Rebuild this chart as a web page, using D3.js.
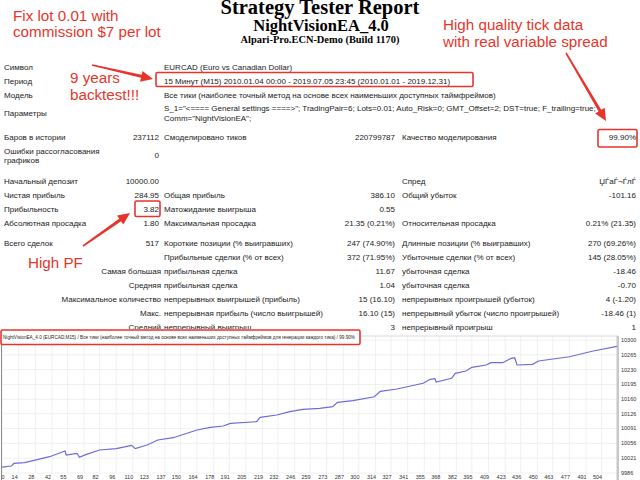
<!DOCTYPE html>
<html>
<head>
<meta charset="utf-8">
<script src="https://cdn.jsdelivr.net/npm/d3@7"></script>
<style>
body { margin: 0; background: #fff; }
svg { display: block; }
</style>
</head>
<body>
<div id="canvas"></div>
<script>
// report header
const reportTitle = "Strategy Tester Report",
    expertName = "NightVisionEA_4.0",
    serverName = "Alpari-Pro.ECN-Demo (Build 1170)";

// general info block
const infoLabels = ["Символ", "Период", "Модель", "Параметры"];
const infoValues = [
    ["EURCAD (Euro vs Canadian Dollar)"],
    ["15 Минут (M15) 2010.01.04 00:00 - 2019.07.05 23:45 (2010.01.01 - 2019.12.31)"],
    ["Все тики (наиболее точный метод на основе всех наименьших доступных таймфреймов)"],
    ["S_1=\"<==== General settings ====>\"; TradingPair=6; Lots=0.01; Auto_Risk=0; GMT_Offset=2; DST=true; F_trailing=true;",
     "Comm=\"NightVisionEA\";"]
];

// results block: label, value, label, value, label, value
const statRows = [
    [["Баров в истории"], "237112", "Смоделировано тиков", "220799787", "Качество моделирования", "99.90%"],
    [["Ошибки рассогласования", "графиков"], "0", "", "", "", ""],
    [["Начальный депозит"], "10000.00", "", "", "Спред", "ЏЃаЃ¬ЃлЃ"],
    [["Чистая прибыль"], "284.95", "Общая прибыль", "386.10", "Общий убыток", "-101.16"],
    [["Прибыльность"], "3.82", "Матожидание выигрыша", "0.55", "", ""],
    [["Абсолютная просадка"], "1.80", "Максимальная просадка", "21.35 (0.21%)", "Относительная просадка", "0.21% (21.35)"],
    [["Всего сделок"], "517", "Короткие позиции (% выигравших)", "247 (74.90%)", "Длинные позиции (% выигравших)", "270 (69.26%)"],
    [[""], "", "Прибыльные сделки (% от всех)", "372 (71.95%)", "Убыточные сделки (% от всех)", "145 (28.05%)"]
];
const tradeRows = [
    ["Самая большая", "прибыльная сделка", "11.67", "убыточная сделка", "-18.46"],
    ["Средняя", "прибыльная сделка", "1.04", "убыточная сделка", "-0.70"],
    ["Максимальное количество", "непрерывных выигрышей (прибыль)", "15 (16.10)", "непрерывных проигрышей (убыток)", "4 (-1.20)"],
    ["Макс.", "непрерывная прибыль (число выигрышей)", "16.10 (15)", "непрерывный убыток (число проигрышей)", "-18.46 (1)"],
    ["Средний", "непрерывный выигрыш", "3", "непрерывный проигрыш", "1"]
];

// balance chart
const chartHeader = "NightVisionEA_4.0 (EURCAD,M15) / Все тики (наиболее точный метод на основе всех наименьших доступных таймфреймов для генерации каждого тика) / 99.90%";
const tradeNo = [0, 8, 10, 19, 34, 40, 53, 54, 63, 65, 71, 82, 96, 109, 112, 122, 131, 144, 151, 164, 175, 186, 192, 214, 217, 231, 242, 253, 267,
    278, 282, 295, 313, 318, 332, 354, 360, 364, 365, 378, 381, 390, 395, 407, 411, 421, 428, 431, 433, 446, 451, 477, 497, 517];
const balance = [10000, 10002.5, 10008.9, 10010.3, 10020.7, 10024.5, 10037.9, 10028.5, 10032.5, 10023.1, 10030.1, 10040.3, 10043.4, 10051.4,
    10043.4, 10052.1, 10063.9, 10069.3, 10075.7, 10087.5, 10093.9, 10097, 10103.3, 10107.1, 10117.5, 10122.9, 10130.7, 10136.4, 10138.7,
    10142.5, 10152.9, 10156.7, 10166.1, 10178.9, 10184.3, 10197.8, 10207.2, 10208.6, 10200.8, 10209.6, 10221.4, 10226.8, 10235.5, 10241,
    10246.4, 10246.4, 10256.8, 10258.2, 10241, 10242.6, 10250.4, 10260.5, 10274, 10284.95];
const yTicks = [9986, 10021, 10056, 10091, 10126, 10160, 10195, 10230, 10265, 10300];
const xTicks = [0, 14, 28, 42, 55, 69, 82, 96, 110, 123, 137, 150, 164, 178, 191, 205, 219, 232, 246, 259, 273, 287, 300, 314, 327, 341,
    355, 368, 382, 395, 409, 423, 436, 450, 463, 477, 491, 504];

// red remarks
const notes = [
    {lines: ["Fix lot 0.01 with", "commission $7 per lot"], x: 13, y: 20.5},
    {lines: ["9 years", "backtest!!!"], x: 70, y: 83},
    {lines: ["High quality tick data", "with real variable spread"], x: 443, y: 30},
    {lines: ["High PF"], x: 28, y: 268}
];

const width = 640, height = 480;
const red = "#e8352b";
const tableFont = "'Liberation Sans', Arial, sans-serif";

const svg = d3.select("#canvas")
    .append("svg")
    .attr("width", width)
    .attr("height", height)
    .style("background", "#fff");

// title
const serif = "'Liberation Serif', 'Times New Roman', serif";
svg.append("text").attr("x", 320).attr("y", 14).attr("text-anchor", "middle")
    .attr("font-family", serif).attr("font-weight", "bold").attr("font-size", 20.5).text(reportTitle);
svg.append("text").attr("x", 321).attr("y", 30.5).attr("text-anchor", "middle")
    .attr("font-family", serif).attr("font-weight", "bold").attr("font-size", 16.5).text(expertName);
svg.append("text").attr("x", 320).attr("y", 43).attr("text-anchor", "middle")
    .attr("font-family", serif).attr("font-weight", "bold").attr("font-size", 10.4).text(serverName);

// table text
const table = svg.append("g")
    .attr("font-family", tableFont)
    .attr("font-size", 8)
    .attr("fill", "#1a1a1a");

function cell(x, y, txt, anchor) {
    if (!txt) return;
    table.append("text")
        .attr("x", x)
        .attr("y", y)
        .attr("dy", "0.35em")
        .attr("text-anchor", anchor || "start")
        .text(txt);
}

const col = {label1: 4, val1: 159, label2: 164, val2: 395, label3: 402, val3: 636};

const infoY = [67, 81, 95, 113];
infoLabels.forEach((l, i) => {
    cell(col.label1, infoY[i], l);
    const vals = infoValues[i];
    vals.forEach((v, j) => cell(col.label2, infoY[i] + (vals.length > 1 ? (j - 0.5) * 9.5 : 0), v));
});

const statY = [137.5, 155.5, 181, 195, 209, 223.5, 243.5, 257.5];
statRows.forEach((r, i) => {
    r[0].forEach((l, j) => cell(col.label1, statY[i] + (r[0].length > 1 ? (j - 0.5) * 9.5 : 0), l));
    cell(col.val1, statY[i], r[1], "end");
    cell(col.label2, statY[i], r[2]);
    cell(col.val2, statY[i], r[3], "end");
    cell(col.label3, statY[i], r[4]);
    cell(col.val3, statY[i], r[5], "end");
});

const tradeY = [271, 285, 299, 313.3, 327];
tradeRows.forEach((r, i) => {
    cell(161, tradeY[i], r[0], "end");
    cell(col.label2, tradeY[i], r[1]);
    cell(col.val2, tradeY[i], r[2], "end");
    cell(col.label3, tradeY[i], r[3]);
    cell(col.val3, tradeY[i], r[4], "end");
});

// chart
const chart = svg.append("g");
const x = d3.scaleLinear().domain([0, 517]).range([2, 617]);
const y = d3.scaleLinear().domain([9986, 10300]).range([473, 340]);
const plotTop = 336, plotBottom = 473;

chart.append("rect")
    .attr("x", 0).attr("y", plotTop)
    .attr("width", 619).attr("height", height - plotTop)
    .attr("fill", "#fff");

// grid
chart.selectAll(".vgrid")
    .data(xTicks)
    .join("line")
    .attr("x1", d => x(d)).attr("x2", d => x(d))
    .attr("y1", plotTop).attr("y2", plotBottom)
    .attr("stroke", "#ececec").attr("stroke-width", 0.8);
chart.selectAll(".hgrid")
    .data(yTicks)
    .join("line")
    .attr("x1", x(0)).attr("x2", x(517))
    .attr("y1", d => y(d)).attr("y2", d => y(d))
    .attr("stroke", "#ececec").attr("stroke-width", 0.8);

chart.append("line").attr("x1", 0).attr("x2", 618).attr("y1", plotTop).attr("y2", plotTop)
    .attr("stroke", "#d8d8d8");
chart.append("line").attr("x1", 1.5).attr("x2", 1.5).attr("y1", plotTop).attr("y2", height)
    .attr("stroke", "#8a8a8a");
chart.append("rect").attr("x", 616.5).attr("y", plotTop).attr("width", 2.5).attr("height", height - plotTop)
    .attr("fill", "#c8c8c8");

// axis labels
chart.selectAll(".ylab")
    .data(yTicks)
    .join("text")
    .attr("x", 621)
    .attr("y", d => y(d))
    .attr("dy", "0.35em")
    .attr("font-family", tableFont)
    .attr("font-size", 5.5)
    .attr("fill", "#333")
    .text(d => d);
chart.selectAll(".xlab")
    .data(xTicks)
    .join("text")
    .attr("x", d => Math.max(3, x(d) - 4))
    .attr("y", 477)
    .attr("dy", "0.35em")
    .attr("text-anchor", "middle")
    .attr("font-family", tableFont)
    .attr("font-size", 5.5)
    .attr("fill", "#333")
    .text(d => d);

// balance line
chart.append("path")
    .datum(d3.zip(tradeNo, balance))
    .attr("fill", "none")
    .attr("stroke", "#6c6cdc")
    .attr("stroke-width", 1.2)
    .attr("d", d3.line().x(d => x(d[0])).y(d => y(d[1])));

// chart header
chart.append("rect").attr("x", 0).attr("y", 329).attr("width", 361).attr("height", 16).attr("fill", "#fff");
chart.append("text")
    .attr("x", 3).attr("y", 337.5).attr("dy", "0.35em")
    .attr("font-family", tableFont).attr("font-size", 4.7).attr("fill", "#222")
    .attr("textLength", 352).attr("lengthAdjust", "spacingAndGlyphs")
    .text(chartHeader);

// red boxes
const boxes = [[156, 72.5, 317, 14], [598, 129.5, 39, 17.5], [135, 201, 25, 15.5], [1, 330, 359, 14.5]];
svg.selectAll(".box")
    .data(boxes)
    .join("rect")
    .attr("x", d => d[0]).attr("y", d => d[1])
    .attr("width", d => d[2]).attr("height", d => d[3])
    .attr("rx", 1.5)
    .attr("fill", "none")
    .attr("stroke", red)
    .attr("stroke-width", 1.6);

// remarks
notes.forEach(n => {
    svg.append("text")
        .attr("x", n.x).attr("y", n.y)
        .attr("font-family", "'Liberation Sans', Arial, sans-serif")
        .attr("font-size", 15.2)
        .attr("fill", red)
        .selectAll("tspan")
        .data(n.lines)
        .join("tspan")
        .attr("x", n.x)
        .attr("dy", (d, i) => i ? 16.5 : 0)
        .text(d => d);
});

// arrows
function arrow(x1, y1, x2, y2) {
    const a = Math.atan2(y2 - y1, x2 - x1),
        len = Math.hypot(x2 - x1, y2 - y1),
        headL = 11, headW = 5.5;
    const g = svg.append("g")
        .attr("transform", "translate(" + x1 + "," + y1 + ") rotate(" + (a * 180 / Math.PI) + ")");
    g.append("path")
        .attr("d", "M0,-0.8L" + (len - headL) + ",-1.6L" + (len - headL) + ",1.6L0,0.8Z")
        .attr("fill", red);
    g.append("path")
        .attr("d", "M" + (len - headL - 1) + "," + (-headW) + "L" + len + ",0L" + (len - headL - 1) + "," + headW + "Z")
        .attr("fill", red);
}
arrow(92, 65, 153, 79);
arrow(566, 53, 606, 121);
arrow(83, 246, 130, 213);
</script>
</body>
</html>
